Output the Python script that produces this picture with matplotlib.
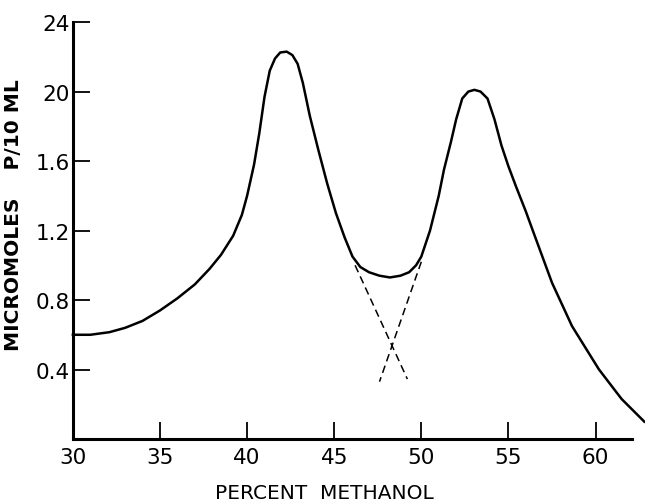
import matplotlib
matplotlib.use("Agg")
from matplotlib import pyplot as plt

# percent methanol vs micromoles P / 10 ml
methanol = [30.0, 31.0, 32.1, 33.0, 34.0, 35.0, 36.0, 37.0, 37.85, 38.5, 39.2,
            39.7, 40.0, 40.4, 40.7, 41.0, 41.3, 41.6, 41.9, 42.27, 42.6, 42.9,
            43.2, 43.6, 44.1, 44.6, 45.1, 45.6, 46.05, 46.5, 47.0, 47.6, 48.2,
            48.8, 49.3, 49.7, 50.0, 50.5, 51.0, 51.3, 51.7, 52.0, 52.35, 52.7,
            53.05, 53.4, 53.8, 54.2, 54.6, 55.0, 55.45, 56.0, 56.4, 57.5, 58.65,
            60.2, 61.5, 62.8]
phosphate = [0.60, 0.60, 0.615, 0.64, 0.68, 0.74, 0.81, 0.89, 0.98, 1.06, 1.17,
             1.29, 1.40, 1.58, 1.76, 1.97, 2.12, 2.19, 2.225, 2.23, 2.21, 2.16,
             2.05, 1.86, 1.66, 1.47, 1.30, 1.16, 1.05, 0.99, 0.96, 0.94, 0.93,
             0.94, 0.96, 1.00, 1.05, 1.20, 1.40, 1.55, 1.71, 1.84, 1.96, 2.00,
             2.01, 2.00, 1.96, 1.84, 1.69, 1.57, 1.45, 1.31, 1.20, 0.90, 0.65,
             0.40, 0.23, 0.10]

# dashed extrapolations of the two peaks
left_x = [46.2, 49.2]
left_y = [1.00, 0.345]
right_x = [50.0, 47.6]
right_y = [1.02, 0.33]

xticks = [30, 35, 40, 45, 50, 55, 60]
yticks = [0.4, 0.8, 1.2, 1.6, 2.0, 2.4]
ytick_labels = ["0.4", "0.8", "1.2", "1.6", "20", "24"]

plt.rcParams['font.family'] = ['DejaVu Sans']

fig = plt.figure(figsize=(6.45, 5.02), dpi=100)
ax = fig.add_axes([0.113, 0.1235, 0.867, 0.8305])

ax.plot(methanol, phosphate, color="black", lw=1.8, clip_on=False,
        solid_joinstyle="round")
ax.plot(left_x, left_y, color="black", lw=1.1, ls=(0, (5, 3)))
ax.plot(right_x, right_y, color="black", lw=1.1, ls=(0, (5, 3)))

ax.set_xlim(30, 62.1)
ax.set_ylim(0, 2.4)
ax.spines["top"].set_visible(False)
ax.spines["right"].set_visible(False)
ax.spines["left"].set_linewidth(2.2)
ax.spines["bottom"].set_linewidth(2.2)

ax.set_xticks(xticks)
ax.set_xticklabels([str(t) for t in xticks], fontsize=15.5)
ax.set_yticks(yticks)
ax.set_yticklabels(ytick_labels, fontsize=15.5)
ax.tick_params(axis="both", direction="in", length=12, width=1.3, pad=6)
ax.tick_params(axis="y", pad=2)
ax.xaxis.get_major_ticks()[0].tick1line.set_visible(False)

ax.set_xlabel("PERCENT  METHANOL", fontsize=14.5)
ax.xaxis.set_label_coords(0.45, -0.105)
ax.set_ylabel("MICROMOLES    P/10 ML", fontsize=14.5, fontweight="bold")
ax.yaxis.set_label_coords(-0.09, 0.54)

fig.savefig("out.png", dpi=100)
